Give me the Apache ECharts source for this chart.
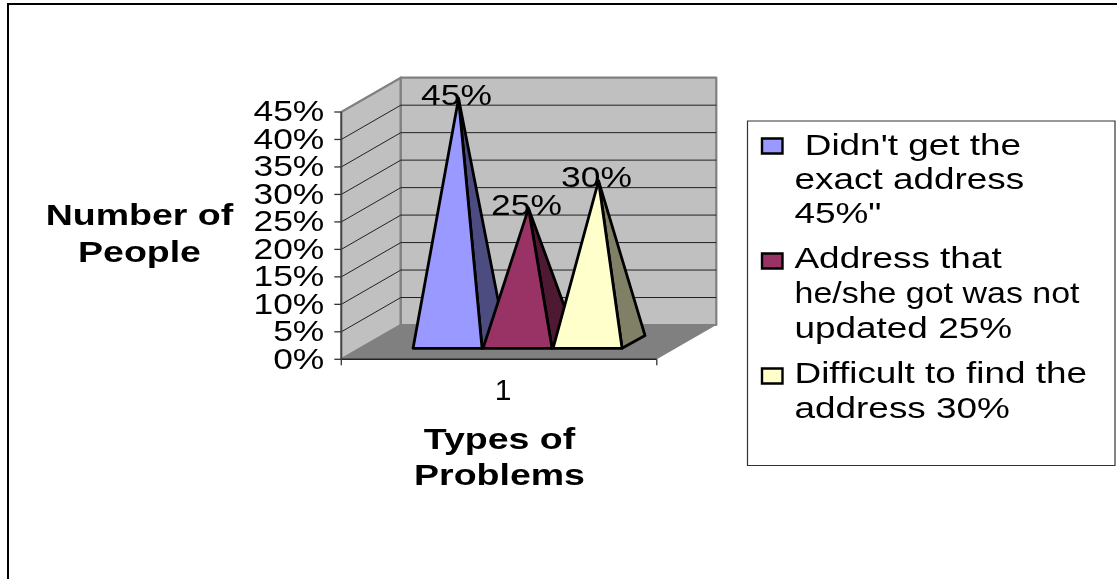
<!DOCTYPE html>
<html><head><meta charset="utf-8">
<style>html,body{margin:0;padding:0;background:#fff}#c{width:1117px;height:579px}</style>
<script src="https://cdn.jsdelivr.net/npm/echarts@6/dist/echarts.min.js"></script></head>
<body><div id="c"></div>
<script>
const categories = ['1'];
const seriesNames = ["Didn't get the exact address 45%\"", 'Address that he/she got was not updated 25%', 'Difficult to find the address 30%'];
const seriesValues = [45, 25, 30];
const dataLabels = ['45%', '25%', '30%'];
const tickValues = [0, 5, 10, 15, 20, 25, 30, 35, 40, 45];
const legendLines = [[" Didn't get the", 'exact address', '45%"'], ['Address that', 'he/she got was not', 'updated 25%'], ['Difficult to find the', 'address 30%']];
const yTitle = 'Number of\nPeople';
const xTitle = 'Types of\nProblems';
const faceColors = ['#9999ff', '#993366', '#ffffcc'];
const sideColors = ['#4c4c80', '#4d1933', '#808066'];

const FONT = '"Liberation Sans", Arial, sans-serif';
const FS = 30;                 // the reference's text is stretched horizontally
const SX_AXIS = 1.18, SX_LEG = 1.23, SX_TITLE = 1.25;
const DEPTH = [59.5, -34.3];   // 3D depth of the chart box
const PYR_W = 70;

function wallsItem(params, api) {
  const o = api.coord([0, 0]), t = api.coord([0, 45]);
  const size = api.size([1, 0]);
  const xL = o[0] - size[0] / 2, xR = o[0] + size[0] / 2;
  const [dx, dy] = DEPTH, yB = o[1], yT = t[1];
  const wallStyle = {fill: '#c0c0c0', stroke: '#808080', lineWidth: 2.2, lineJoin: 'round'};
  const children = [
    {type: 'polygon', shape: {points: [[xL, yB], [xL + dx, yB + dy], [xL + dx, yT + dy], [xL, yT]]}, style: wallStyle},
    {type: 'polygon', shape: {points: [[xL + dx, yB + dy], [xR + dx, yB + dy], [xR + dx, yT + dy], [xL + dx, yT + dy]]}, style: wallStyle},
    {type: 'polygon', shape: {points: [[xL, yB], [xR, yB], [xR + dx, yB + dy], [xL + dx, yB + dy]]}, style: {fill: '#808080'}}
  ];
  tickValues.slice(1, -1).forEach(v => {
    const y = api.coord([0, v])[1];
    children.push({type: 'polyline', shape: {points: [[xL, y], [xL + dx, y + dy], [xR + dx, y + dy]]}, style: {fill: 'none', stroke: '#222', lineWidth: 1}});
  });
  children.push({type: 'line', shape: {x1: xL, y1: yB, x2: xL, y2: yT}, style: {stroke: '#444', lineWidth: 1.6}});
  children.push({type: 'line', shape: {x1: xL, y1: yB, x2: xR, y2: yB}, style: {stroke: '#222', lineWidth: 1.6}});
  tickValues.forEach(v => {
    const y = api.coord([0, v])[1];
    children.push({type: 'line', shape: {x1: xL - 7, y1: y, x2: xL, y2: y}, style: {stroke: '#333', lineWidth: 1.3}});
    children.push({type: 'text', x: xL - 17, y: y + 1, scaleX: SX_AXIS, style: {text: v + '%', font: FS + 'px ' + FONT, fill: '#000', textAlign: 'right', textVerticalAlign: 'middle'}});
  });
  children.push({type: 'line', shape: {x1: xR, y1: yB, x2: xR, y2: yB + 6}, style: {stroke: '#333', lineWidth: 1.3}});
  children.push({type: 'line', shape: {x1: xL, y1: yB, x2: xL, y2: yB + 6}, style: {stroke: '#333', lineWidth: 1.3}});
  return {type: 'group', children};
}

function pyramidItem(i) {
  return function (params, api) {
    const v = api.value(1);
    const o = api.coord([0, 0]), top = api.coord([0, v]);
    const cx = o[0] + 18.5 + (i - 1) * PYR_W;
    const hw = PYR_W / 2 - 0.5;
    const yF = o[1] - 11, bx = 23, by = -12.7;
    const apex = [cx + 11, top[1] - 13.5];
    const edge = {stroke: '#000', lineWidth: 2.8, lineJoin: 'round'};
    return {type: 'group', children: [
      {type: 'polygon', shape: {points: [[cx + hw, yF], [cx + hw + bx, yF + by], apex]}, style: Object.assign({fill: sideColors[i]}, edge)},
      {type: 'polygon', shape: {points: [[cx - hw, yF], [cx + hw, yF], apex]}, style: Object.assign({fill: faceColors[i]}, edge)},
      {type: 'text', x: apex[0] - 2, y: apex[1] - 2, scaleX: SX_AXIS, z2: 5, style: {text: dataLabels[i], font: FS + 'px ' + FONT, fill: '#000', textAlign: 'center', textVerticalAlign: 'middle'}}
    ]};
  };
}

const series = [{type: 'custom', name: 'walls', silent: true, z: 1, coordinateSystem: 'cartesian2d', data: [[0, 0]], renderItem: wallsItem, clip: false}];
seriesValues.forEach((val, i) => series.push({
  type: 'custom', name: seriesNames[i], z: 2 + i, coordinateSystem: 'cartesian2d', clip: false,
  data: [[0, val]], encode: {x: 0, y: 1}, renderItem: pyramidItem(i)
}));

function label(text, x, y, sx, weight, align, lh) {
  return {type: 'text', x, y, scaleX: sx, z: 50, style: {text, font: (weight ? 'bold ' : '') + FS + 'px ' + FONT, fill: '#000', textAlign: align, textVerticalAlign: 'middle', lineHeight: lh}};
}
const graphic = [
  {type: 'rect', z: 0, shape: {x: 8, y: 4, width: 1130, height: 620}, style: {fill: 'none', stroke: '#000', lineWidth: 2}},
  {type: 'rect', z: 40, shape: {x: 747.5, y: 121, width: 367.5, height: 344.5}, style: {fill: '#fff', stroke: '#333', lineWidth: 1.2}},
  label(yTitle, 139.5, 235.5, SX_TITLE, true, 'center', 37),
  label(xTitle, 499.5, 459, SX_TITLE, true, 'center', 36)
];
const swatchY = [146, 261, 376];
const lineY = [[147, 181, 215], [260, 295, 330], [375, 410]];
legendLines.forEach((lines, i) => {
  graphic.push({type: 'rect', z: 45, shape: {x: 762, y: swatchY[i] - 7.5, width: 20.5, height: 15}, style: {fill: faceColors[i], stroke: '#000', lineWidth: 2.4}});
  lines.forEach((t, j) => graphic.push(label(t, 794.5, lineY[i][j], t.startsWith('he/she') ? SX_LEG * 0.92 : SX_LEG, false, 'left', 30)));
});

const chart = echarts.init(document.getElementById('c'), null, {renderer: 'canvas'});
chart.setOption({
  animation: false,
  backgroundColor: '#fff',
  grid: {left: 341.3, top: 112, width: 315.5, height: 247.3, containLabel: false},
  xAxis: {type: 'category', data: categories, axisLine: {show: false}, axisTick: {show: false}, splitLine: {show: false},
    axisLabel: {show: true, fontFamily: FONT, fontSize: 30, color: '#000', margin: 17, padding: [0, 0, 0, 8]}},
  yAxis: {type: 'value', min: 0, max: 45, interval: 5, axisLine: {show: false}, axisTick: {show: false}, splitLine: {show: false}, axisLabel: {show: false}},
  graphic: {elements: graphic},
  series
});
</script></body></html>
